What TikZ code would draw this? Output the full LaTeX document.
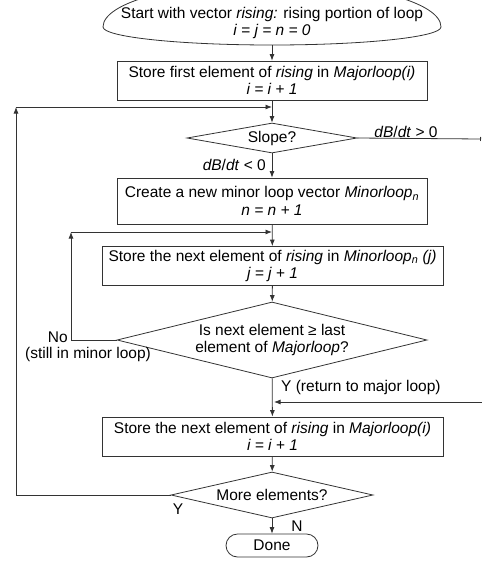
\documentclass[tikz,border=0pt]{standalone}
\usepackage{fontspec}
\setmainfont{Liberation Sans}
\usetikzlibrary{shapes.geometric,arrows.meta}

\begin{document}
\begin{tikzpicture}[x=1pt, y=-1pt,
    font=\fontsize{15.5}{17.5}\selectfont,
    % Define the styles of the flow chart
    line/.style={draw=black!80, line width=0.8pt},
    flow/.style={line, -{Latex[length=6.5pt, width=5pt]}},
    terminal/.style={rectangle, inner sep=0pt, align=center},
    process/.style={line, rectangle, inner sep=0pt, align=center},
    decision/.style={line, diamond, inner sep=0pt, align=center},
    lbl/.style={inner sep=0pt}
  ]
    \useasboundingbox (0,0) rectangle (482,563);

    % Boxes of the main column
    \node[terminal, minimum width=338, minimum height=44] (start) at (272,23)
      {Start with vector \textit{rising:} rising portion of loop\\ \textit{i = j = n = 0}};
    % Outline of the start box, its top runs past the page
    \draw[line] (start.center) ++(-169,4)
      arc[start angle=180, end angle=0, x radius=169pt, y radius=45pt]
      arc[start angle=0, end angle=-180, x radius=169pt, y radius=18pt];
    \coordinate (startbottom) at (272,45);
    \node[process, minimum width=310, minimum height=39] (first) at (272,80.5)
      {Store first element of \textit{rising} in \textit{Majorloop(i)}\\ \textit{i = i + 1}};
    \node[decision, aspect=5.6, minimum width=170, minimum height=30] (slope) at (272,138)
      {Slope?};
    \node[process, minimum width=310, minimum height=46] (create) at (272,201)
      {Create a new minor loop vector \textit{Minorloop}\textsubscript{\textit{n}}\\ \textit{n = n + 1}};
    \node[process, minimum width=341, minimum height=39] (storeminor) at (272.5,266)
      {Store the next element of \textit{rising} in \textit{Minorloop}\textsubscript{\textit{n}} \textit{(j)}\\ \textit{j = j + 1}};
    \node[decision, aspect=4.1, minimum width=310, minimum height=76] (isnext) at (272,340)
      {Is next element ≥ last\\ element of \textit{Majorloop}?};
    \node[process, minimum width=341, minimum height=39] (storemajor) at (272.5,436.5)
      {Store the next element of \textit{rising} in \textit{Majorloop(i)}\\ \textit{i = i + 1}};
    \node[decision, aspect=4.4, minimum width=202, minimum height=46] (more) at (272,495)
      {More elements?};
    \node[line, rectangle, rounded corners=11.5pt, minimum width=92, minimum height=23, inner sep=0pt] (done) at (272,545.5)
      {Done};

    % Corner points of the loops
    \coordinate (majorcorner) at (16,107);
    \coordinate (majorin) at (272,107);
    \coordinate (minorcorner) at (71,232);
    \coordinate (minorin) at (272,232);
    \coordinate (slopeout) at (481,139);
    \coordinate (returnfrom) at (482,402);
    \coordinate (returnin) at (272,402);

    % Main flow
    \draw[flow] (startbottom) -- (first);
    \draw[flow] (first) -- (slope);
    \draw[flow] (slope) -- (create);
    \draw[flow] (create) -- (storeminor);
    \draw[flow] (storeminor) -- (isnext);
    \draw[flow] (isnext) -- (storemajor);
    \draw[flow] (storemajor) -- (more);
    \draw[flow] (more) -- (done);

    % Major loop back to the slope test
    \draw[flow] (more.west) -- (more.west -| majorcorner) -- (majorcorner);
    \draw[flow] (majorcorner) -- (majorin);

    % Minor loop back to the store box
    \draw[flow] (isnext.west) -- (isnext.west -| minorcorner) -- (minorcorner);
    \draw[flow] (minorcorner) -- (minorin);

    % Branches leaving and entering at the right
    \draw[line, -{Bar[width=4pt]}] (slope.east) -- (slopeout);
    \draw[flow] (returnfrom) -- ([xshift=2]returnin);

    % Labels of the branches
    \node[lbl] (posslope) at (406,132) {\textit{dB}/\textit{dt} > 0};
    \node[lbl, anchor=east] (negslope) at (266,165) {\textit{dB}/\textit{dt} < 0};
    \node[lbl, anchor=east] (nolbl) at (68,337) {No};
    \node[lbl] (stilllbl) at (88,354.5) {(still in minor loop)};
    \node[lbl, anchor=west] (returnlbl) at (281,387) {Y (return to major loop)};
    \node[lbl] (ylbl) at (178,509) {Y};
    \node[lbl] (nlbl) at (297,526) {N};
  \end{tikzpicture}
\end{document}
